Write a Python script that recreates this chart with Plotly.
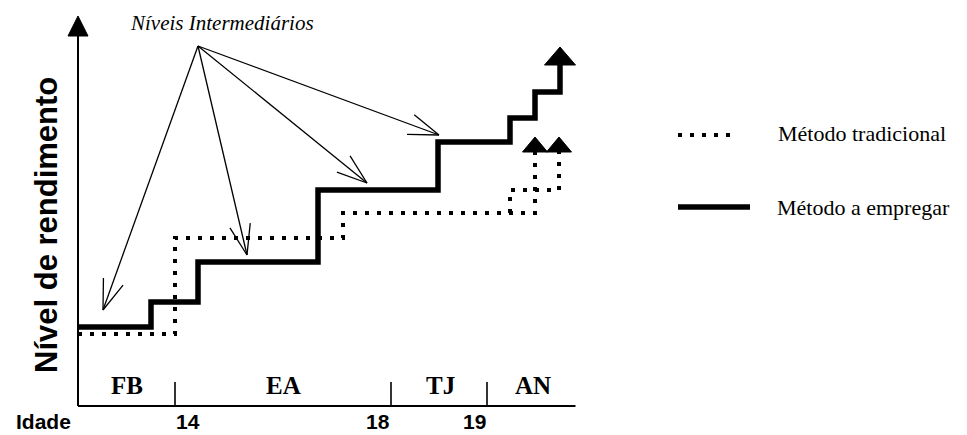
import numpy as np
import plotly.graph_objects as go

# ---------------- data (abstract units: x = time axis, y = performance level) ----------------
solid_x = [0, 14.6, 14.6, 24, 24, 48, 48, 72, 72, 86.4, 86.4, 91.4, 91.4, 96.4, 96.4]
solid_y = [19.75, 19.75, 26, 26, 36, 36, 54, 54, 66, 66, 72, 72, 78.5, 78.5, 85.25]

dotted_x = [0, 19.4, 19.4, 53, 53, 91.4, 91.4]
dotted_y = [18, 18, 42, 42, 48.25, 48.25, 63.5]

dotted_branch_x = [86.4, 86.4, 96.2, 96.2]
dotted_branch_y = [48.25, 54, 54, 63.5]

arrow_origin = (24, 90)
arrow_tips_x = [5, 33.8, 57.8, 72.2]
arrow_tips_y = [24, 37.75, 55.75, 67.75]

phase_labels = ["FB", "EA", "TJ", "AN"]
phase_label_x = [9.8, 41, 72.4, 91]
phase_ticks_x = [19.4, 62.6, 81.8]

age_labels = ["14", "18", "19"]

axis_x_end = 99.5
axis_y_end = 92.5

legend_labels = ["Método tradicional", "Método a empregar"]
y_title = "Nível de rendimento"
annot_title = "Níveis Intermediários"

# ---------------- layout geometry ----------------
PAGE_OFF = 8                 # default body margin of the html page
W, H = 967 - PAGE_OFF, 435 - PAGE_OFF
SX, SY = 5.0, 4.0            # pixels per unit
X0 = -(78 - PAGE_OFF) / SX
Y1 = (406 - PAGE_OFF) / SY
X1 = X0 + W / SX
Y0 = Y1 - H / SY

SERIF = "Liberation Serif, Times New Roman, serif"
SANS = "Liberation Sans, Arial, sans-serif"
NARROW = "Liberation Sans Narrow, Arial Narrow, Liberation Sans, sans-serif"


def tri(xc, yb, w_px, h_px):
    """filled upward triangle with base centre (xc, yb)"""
    return ([xc - w_px / 2 / SX, xc + w_px / 2 / SX, xc, xc - w_px / 2 / SX],
            [yb, yb, yb + h_px / SY, yb])


def open_head(tx, ty, ox, oy, length_px=32, half_angle=19):
    dx, dy = (ox - tx) * SX, (oy - ty) * SY
    ang = np.arctan2(dy, dx)
    xs, ys = [], []
    for s in (-1, 1):
        a = ang + s * np.radians(half_angle)
        xs += [tx + length_px * np.cos(a) / SX, tx, None]
        ys += [ty + length_px * np.sin(a) / SY, ty, None]
    return xs, ys


fig = go.Figure()

# axes
fig.add_trace(go.Scatter(x=[0, 0, None, 0, axis_x_end], y=[axis_y_end, 0, None, 0, 0],
                         mode="lines", line=dict(color="black", width=2), hoverinfo="skip"))
tx, ty = [], []
for t in phase_ticks_x:
    tx += [t, t, None]
    ty += [0, 6, None]
fig.add_trace(go.Scatter(x=tx, y=ty, mode="lines", line=dict(color="black", width=1.6),
                         hoverinfo="skip"))
ax_tri = tri(0, axis_y_end, 20, 20)
fig.add_trace(go.Scatter(x=ax_tri[0], y=ax_tri[1], mode="lines", fill="toself",
                         fillcolor="black", line=dict(color="black", width=1), hoverinfo="skip"))

# thin arrows
ax_, ay_ = [], []
for x_t, y_t in zip(arrow_tips_x, arrow_tips_y):
    ax_ += [arrow_origin[0], x_t, None]
    ay_ += [arrow_origin[1], y_t, None]
    hx, hy = open_head(x_t, y_t, *arrow_origin)
    ax_ += hx
    ay_ += hy
fig.add_trace(go.Scatter(x=ax_, y=ay_, mode="lines", line=dict(color="black", width=1.3),
                         hoverinfo="skip"))

# dotted series (Método tradicional)
dot_line = dict(color="black", width=4, dash="4px,8px")
fig.add_trace(go.Scatter(x=dotted_x, y=dotted_y, mode="lines", line=dot_line,
                         name=legend_labels[0]))
fig.add_trace(go.Scatter(x=dotted_branch_x, y=dotted_branch_y, mode="lines", line=dot_line,
                         hoverinfo="skip"))
for xc in (dotted_x[-1], dotted_branch_x[-1]):
    t = tri(xc, dotted_y[-1], 25, 15)
    fig.add_trace(go.Scatter(x=t[0], y=t[1], mode="lines", fill="toself", fillcolor="black",
                             line=dict(color="black", width=1), hoverinfo="skip"))

# solid series (Método a empregar)
fig.add_trace(go.Scatter(x=solid_x, y=solid_y, mode="lines",
                         line=dict(color="black", width=5.5), name=legend_labels[1]))
t = tri(solid_x[-1], solid_y[-1], 31, 18)
fig.add_trace(go.Scatter(x=t[0], y=t[1], mode="lines", fill="toself", fillcolor="black",
                         line=dict(color="black", width=1), hoverinfo="skip"))

# custom legend samples
fig.add_trace(go.Scatter(x=[120, 132], y=[67.75, 67.75], mode="lines", line=dot_line,
                         hoverinfo="skip"))
fig.add_trace(go.Scatter(x=[120, 134.4], y=[49.75, 49.75], mode="lines",
                         line=dict(color="black", width=5.5), hoverinfo="skip"))

annotations = []
for lab, xl in zip(phase_labels, phase_label_x):
    annotations.append(dict(x=xl, y=5.25, text=f"<b>{lab}</b>", showarrow=False,
                            font=dict(family=SERIF, size=25, color="black"),
                            xanchor="center", yanchor="middle"))
anchors = ["left", "right", "right"]
BOTTOM_Y = Y0 + 0.15
for lab, xl, an in zip(age_labels, phase_ticks_x, anchors):
    annotations.append(dict(x=xl, y=BOTTOM_Y, text=f"<b>{lab}</b>", showarrow=False,
                            font=dict(family=SANS, size=21, color="black"),
                            xanchor=an, yanchor="bottom", borderpad=0))
annotations.append(dict(x=-7, y=BOTTOM_Y, text="<b>Idade</b>", showarrow=False,
                        font=dict(family=SANS, size=21, color="black"),
                        xanchor="center", yanchor="bottom", borderpad=0))
annotations.append(dict(x=-6.4, y=45.25, text=f"<b>{y_title}</b>", showarrow=False,
                        textangle=-90,
                        font=dict(family=NARROW, size=31, color="black"),
                        xanchor="center", yanchor="middle"))
annotations.append(dict(x=28.8, y=95.75, text=f"<i>{annot_title}</i>", showarrow=False,
                        font=dict(family=SERIF, size=21, color="black"),
                        xanchor="center", yanchor="middle"))
annotations.append(dict(x=139.6, y=68.25, text=legend_labels[0], showarrow=False,
                        font=dict(family=SERIF, size=22, color="black"),
                        xanchor="left", yanchor="middle"))
annotations.append(dict(x=139.4, y=49.75, text=legend_labels[1], showarrow=False,
                        font=dict(family=SERIF, size=22, color="black"),
                        xanchor="left", yanchor="middle"))

fig.update_layout(
    width=W, height=H,
    margin=dict(l=0, r=0, t=0, b=0),
    paper_bgcolor="white", plot_bgcolor="white",
    showlegend=False,
    xaxis=dict(range=[X0, X1], visible=False, fixedrange=True),
    yaxis=dict(range=[Y0, Y1], visible=False, fixedrange=True),
    annotations=annotations,
)

fig.write_html("out.html")
